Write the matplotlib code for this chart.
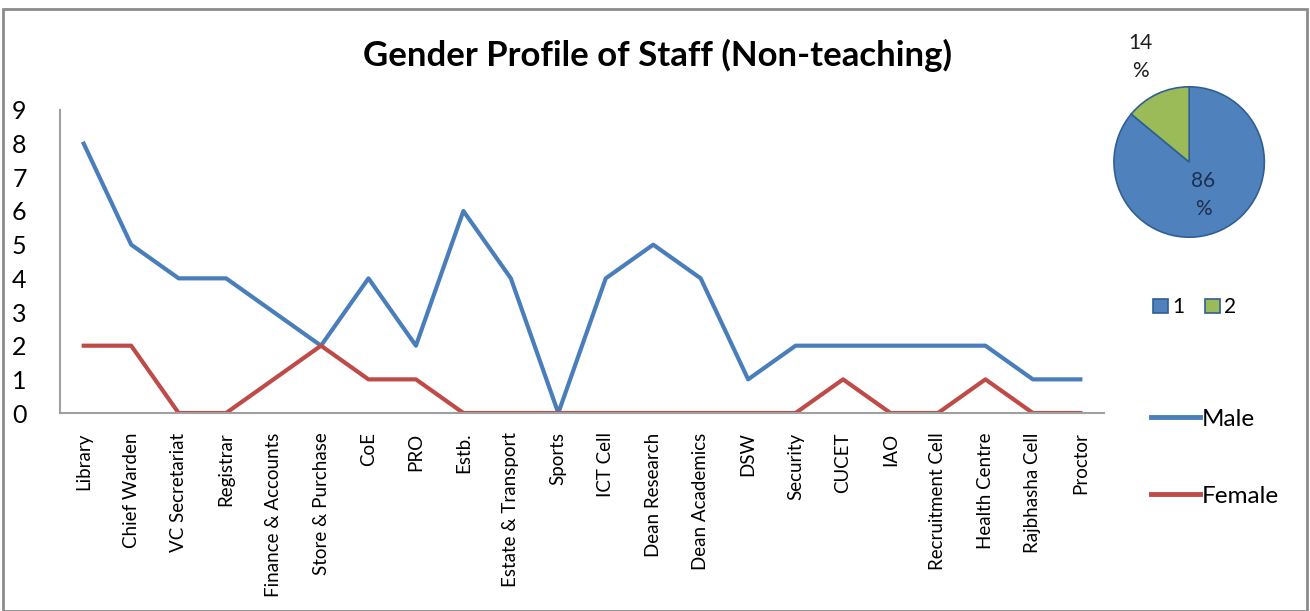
import matplotlib
matplotlib.use("Agg")
import matplotlib.pyplot as plt
from matplotlib.patches import Rectangle
from matplotlib.lines import Line2D

# data
departments = ['Library', 'Chief Warden', 'VC Secretariat', 'Registrar', 'Finance & Accounts',
               'Store & Purchase', 'CoE', 'PRO', 'Estb.', 'Estate & Transport', 'Sports',
               'ICT Cell', 'Dean Research', 'Dean Academics', 'DSW', 'Security', 'CUCET',
               'IAO', 'Recruitment Cell', 'Health Centre', 'Rajbhasha Cell', 'Proctor']
male = [8, 5, 4, 4, 3, 2, 4, 2, 6, 4, 0, 4, 5, 4, 1, 2, 2, 2, 2, 2, 1, 1]
female = [2, 2, 0, 0, 1, 2, 1, 1, 0, 0, 0, 0, 0, 0, 0, 0, 1, 0, 0, 1, 0, 0]
pie_labels = ['1', '2']
pie_share = [86, 14]

plt.rcParams['font.family'] = ['Lato', 'DejaVu Sans']

fig = plt.figure(figsize=(13.1, 6.11), dpi=100)
fig.patches.append(Rectangle((0.002, 0.0), 0.996, 0.985, transform=fig.transFigure,
                             fill=False, edgecolor='#8c8c8c', linewidth=2))

ax = fig.add_axes([0.0458, 0.324, 0.797, 0.496])
x = range(len(departments))
ax.plot(x, male, color='#4a7ebb', linewidth=3, label='Male')
ax.plot(x, female, color='#be4b48', linewidth=3, label='Female')
ax.set_xlim(-0.5, len(departments) - 0.5)
ax.set_ylim(0, 9)
ax.set_yticks(range(10))
ax.tick_params(axis='y', labelsize=18, length=0, pad=24)
ax.set_xticks(list(x))
ax.set_xticklabels(departments, rotation=90, fontsize=13.5)
ax.tick_params(axis='x', length=0, pad=14)
for s in ['top', 'right']:
    ax.spines[s].set_visible(False)
for s in ['left', 'bottom']:
    ax.spines[s].set_color('#a0a0a0')
    ax.spines[s].set_linewidth(1.5)

fig.text(0.502, 0.91, 'Gender Profile of Staff (Non-teaching)', ha='center', va='center',
         fontsize=25, fontweight='bold')

# line legend
handles = [Line2D([], [], color='#4a7ebb', linewidth=3.5),
           Line2D([], [], color='#be4b48', linewidth=3.5)]
fig.legend(handles, ['Male', 'Female'], loc='center left', bbox_to_anchor=(0.862, 0.251),
           frameon=False, fontsize=17.5, handlelength=2.0, handletextpad=0.1, labelspacing=2.3)

# pie
pax = fig.add_axes([0.836, 0.581, 0.1435, 0.3077])
wedges, texts = pax.pie(pie_share, colors=['#4f81bd', '#9bbb59'], startangle=90,
                        counterclock=False,
                        wedgeprops=dict(edgecolor='#2f5f94', linewidth=1.2))
pax.set_aspect('equal')
pax.text(0.19, -0.44, '86\n%', ha='center', va='center', fontsize=15, color='#1f2f4f',
         linespacing=1.5)
pax.text(-0.65, 1.39, '14\n%', ha='center', va='center', fontsize=15, color='#202020',
         linespacing=1.5)
fig.legend(wedges, pie_labels, loc='center', bbox_to_anchor=(0.912, 0.497), ncol=2,
           frameon=False, fontsize=15, handlelength=0.7, handleheight=0.7,
           handletextpad=0.2, columnspacing=1.0)

fig.savefig('out.png', dpi=100)
